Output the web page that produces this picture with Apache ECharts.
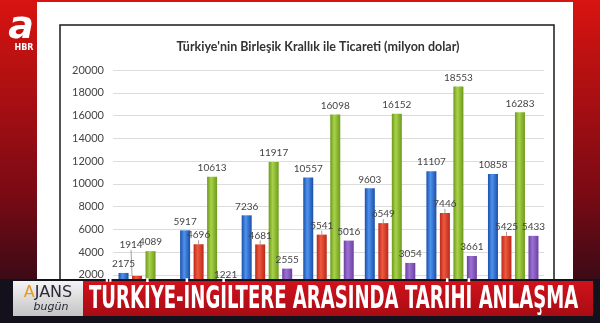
<!DOCTYPE html>
<html><head><meta charset="utf-8">
<script src="https://cdn.jsdelivr.net/npm/echarts@6/dist/echarts.min.js"></script>
<style>html,body{margin:0;padding:0;background:#fff}#c{width:600px;height:323px}</style>
</head><body><div id="c"></div>
<script>
const categories = ['2010','2011','2012','2013','2014','2015','2016'];
const blueValues = [2175, 5917, 7236, 10557, 9603, 11107, 10858];
const redValues = [1914, 4696, 4681, 5541, 6549, 7446, 5425];
const greenValues = [4089, 10613, 11917, 16098, 16152, 18553, 16283];
const purpleValues = [null, 1221, 2555, 5016, 3054, 3661, 5433];
const yTicks = [0, 2000, 4000, 6000, 8000, 10000, 12000, 14000, 16000, 18000, 20000];
const titleText = "Türkiye'nin Birleşik Krallık ile Ticareti (milyon dolar)";
const bannerText = 'TÜRKİYE-İNGİLTERE ARASINDA TARİHİ ANLAŞMA';

function cyl(dark, light){
  return {type:'linear',x:0,y:0,x2:1,y2:0,colorStops:[
    {offset:0,color:dark},{offset:0.4,color:light},{offset:1,color:dark}]};
}
const chart = echarts.init(document.getElementById('c'));
const labelStyle = {show:true, position:'top', distance:4, color:'#444', fontSize:10, fontFamily:'Lato'};
function bar(name, data, dark, light, extra){
  return Object.assign({
    name, type:'bar', data, barWidth:10, barGap:'35%', z:5,
    itemStyle:{color:cyl(dark, light)},
    label:labelStyle
  }, extra||{});
}
chart.setOption({
  animation:false,
  grid:{left:113, right:56, top:70, bottom:25.3, containLabel:false},
  xAxis:{type:'category', data:categories, axisLabel:{show:false}, axisTick:{show:false},
    axisLine:{show:false}},
  yAxis:{type:'value', min:yTicks[0], max:yTicks[yTicks.length-1], interval:2000,
    axisLabel:{color:'#444', fontSize:11, fontFamily:'Lato', margin:9, formatter:function(v){return String(v);}},
    axisLine:{show:false}, axisTick:{show:false},
    splitLine:{lineStyle:{color:'#dcdcdc', width:1}}},
  series:[
    bar('A', blueValues, '#1b4ea8', '#4d93ee'),
    bar('B', redValues, '#b8281a', '#f0593e', {
      labelLayout:function(p){ if(p.dataIndex===0) return {dx:-6, dy:-22}; },
      labelLine:{show:true, lineStyle:{color:'#888', width:0.8}}
    }),
    bar('C', greenValues, '#6e9a1c', '#a8d24a'),
    bar('D', purpleValues, '#6a3fa0', '#9b72d4')
  ],
  graphic:[
    {type:'rect', z:-20, shape:{x:0,y:0,width:600,height:323},
      style:{fill:{type:'linear',x:0,y:0,x2:0,y2:1,colorStops:[{offset:0,color:'#d81410'},{offset:0.6,color:'#7a0a14'},{offset:1,color:'#1c0a18'}]}}, silent:true},
    {type:'rect', z:-19, shape:{x:37,y:2,width:536,height:321}, style:{fill:'#ffffff'}, silent:true},
    {type:'rect', z:-18, shape:{x:60,y:25,width:494,height:300}, style:{fill:'#ffffff', stroke:'#1a1a1a', lineWidth:1.5}, silent:true},
    {type:'text', z:10, style:{text:'a', x:21, y:28, fill:'#ffffff', font:'bold italic 38px "DejaVu Sans"', textAlign:'center', textVerticalAlign:'middle'}},
    {type:'text', z:10, style:{text:'HBR', x:24, y:47.5, fill:'#ffffff', font:'bold 8px "DejaVu Sans"', textAlign:'center', textVerticalAlign:'middle'}},
    {type:'text', z:10, style:{text:titleText, x:318, y:47, fill:'#333', font:'bold 12.5px Lato', textAlign:'center', textVerticalAlign:'middle'}},
    {type:'rect', z:100, shape:{x:0,y:279,width:600,height:44}, style:{fill:'#14101c'}, silent:true},
    {type:'rect', z:101, shape:{x:13,y:281,width:70,height:35},
      style:{fill:{type:'linear',x:0,y:0,x2:0,y2:1,colorStops:[{offset:0,color:'#f4f4f4'},{offset:1,color:'#c4c4c4'}]}}, silent:true},
    {type:'rect', z:101, shape:{x:83,y:281,width:510,height:35},
      style:{fill:{type:'linear',x:0,y:0,x2:0,y2:1,colorStops:[{offset:0,color:'#d0121c'},{offset:1,color:'#a80c14'}]}}, silent:true},
    {type:'text', z:102, style:{text:'{o|A}JANS', x:48, y:293, textAlign:'center', textVerticalAlign:'middle',
      fill:'#2a2a3a', font:'16px "DejaVu Sans"', rich:{o:{fill:'#e89a20', font:'16px "DejaVu Sans"'}}}},
    {type:'text', z:102, style:{text:'bugün', x:51, y:307, fill:'#2a2a3a', font:'italic 11px "DejaVu Sans"', textAlign:'center', textVerticalAlign:'middle'}},
    {type:'text', z:102, x:89, y:299.5, scaleX:0.565, style:{text:bannerText, x:0, y:0, fill:'#ffffff', font:'bold 32px "DejaVu Sans"', textVerticalAlign:'middle'}}
  ]
});
</script></body></html>
